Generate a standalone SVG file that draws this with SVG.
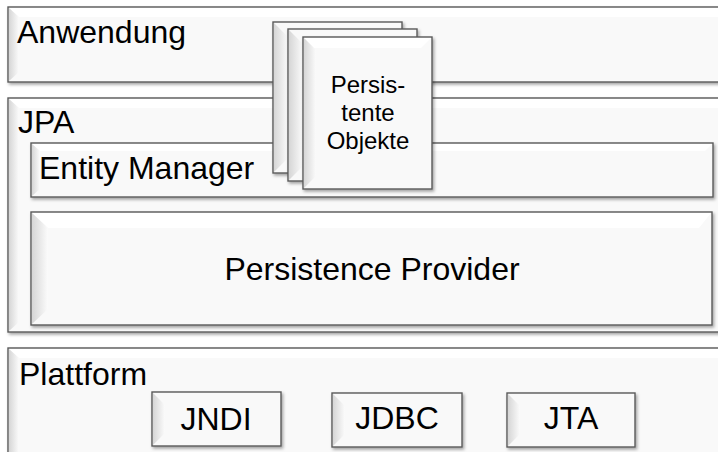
<svg xmlns="http://www.w3.org/2000/svg" width="718" height="452" viewBox="0 0 718 452">
<defs>
<filter id="sh" x="-5%" y="-5%" width="115%" height="120%">
<feDropShadow dx="1.5" dy="2" stdDeviation="1.5" flood-color="#000" flood-opacity="0.35"/>
</filter>
<linearGradient id="lb" x1="0" y1="0" x2="1" y2="0">
<stop offset="0" stop-color="#d6d6d6"/>
<stop offset="1" stop-color="#fbfbfb"/>
</linearGradient>
</defs>
<style>
.box{fill:#f9f9f9;stroke:#5a5a5a;stroke-width:1.4;filter:url(#sh)}
.lb{fill:url(#lb)}
.tb{fill:#ffffff}
.t{font-family:"Liberation Sans",Arial,sans-serif;font-size:32px;fill:#000}
.c{text-anchor:middle}
.s{font-size:24px}
</style>

<g id="anwendung">
<rect class="box" x="8" y="7" width="720" height="75"/>
<polygon class="tb" points="9,8 727,8 727,17 19,17"/>
<polygon class="lb" points="9,8 19,17 19,72 9,81"/>
<text class="t" x="17" y="43">Anwendung</text>
</g>

<g id="jpa">
<rect class="box" x="8" y="98" width="720" height="234"/>
<polygon class="tb" points="9,99 727,99 727,108 19,108"/>
<polygon class="lb" points="9,99 19,108 19,322 9,331"/>
<text class="t" x="18" y="133">JPA</text>
</g>

<g id="entity-manager">
<rect class="box" x="31" y="143" width="682" height="54"/>
<polygon class="tb" points="32,144 712,144 705,151 40,151"/>
<polygon class="lb" points="32,144 40,151 40,189 32,196"/>
<text class="t" x="39" y="179">Entity Manager</text>
</g>

<g id="persistence-provider">
<rect class="box" x="31" y="212" width="681" height="113"/>
<polygon class="tb" points="32,213 711,213 699,228 48,228"/>
<polygon class="lb" points="32,213 48,228 48,309 32,324"/>
<text class="t c" x="372" y="280">Persistence Provider</text>
</g>

<g id="persistente-objekte">
<rect class="box" x="273" y="22" width="129" height="151"/>
<polygon class="lb" points="274,23 288,37 288,158 274,172"/>
<rect class="box" x="288" y="29" width="129" height="152"/>
<polygon class="lb" points="289,30 303,44 303,166 289,180"/>
<rect class="box" x="303" y="37" width="129" height="152"/>
<polygon class="tb" points="304,38 431,38 421,48 314,48"/>
<polygon class="lb" points="304,38 316,50 316,176 304,188"/>
<text class="t s c" x="368" y="93">Persis-</text>
<text class="t s c" x="368" y="121">tente</text>
<text class="t s c" x="368" y="149">Objekte</text>
</g>

<g id="plattform">
<rect class="box" x="8" y="348" width="720" height="120"/>
<polygon class="tb" points="9,349 727,349 727,358 19,358"/>
<polygon class="lb" points="9,349 19,358 19,460 9,470"/>
<text class="t" x="19" y="385">Plattform</text>
</g>

<g id="jndi">
<rect class="box" x="152" y="392" width="129" height="54"/>
<polygon class="lb" points="153,393 165,405 165,433 153,445"/>
<text class="t c" x="216" y="430">JNDI</text>
</g>

<g id="jdbc">
<rect class="box" x="332" y="393" width="130" height="54"/>
<polygon class="lb" points="333,394 345,406 345,434 333,446"/>
<text class="t c" x="397" y="429">JDBC</text>
</g>

<g id="jta">
<rect class="box" x="507" y="393" width="128" height="54"/>
<polygon class="lb" points="508,394 520,406 520,434 508,446"/>
<text class="t c" x="571" y="429">JTA</text>
</g>

<g id="connectors"></g>
</svg>
